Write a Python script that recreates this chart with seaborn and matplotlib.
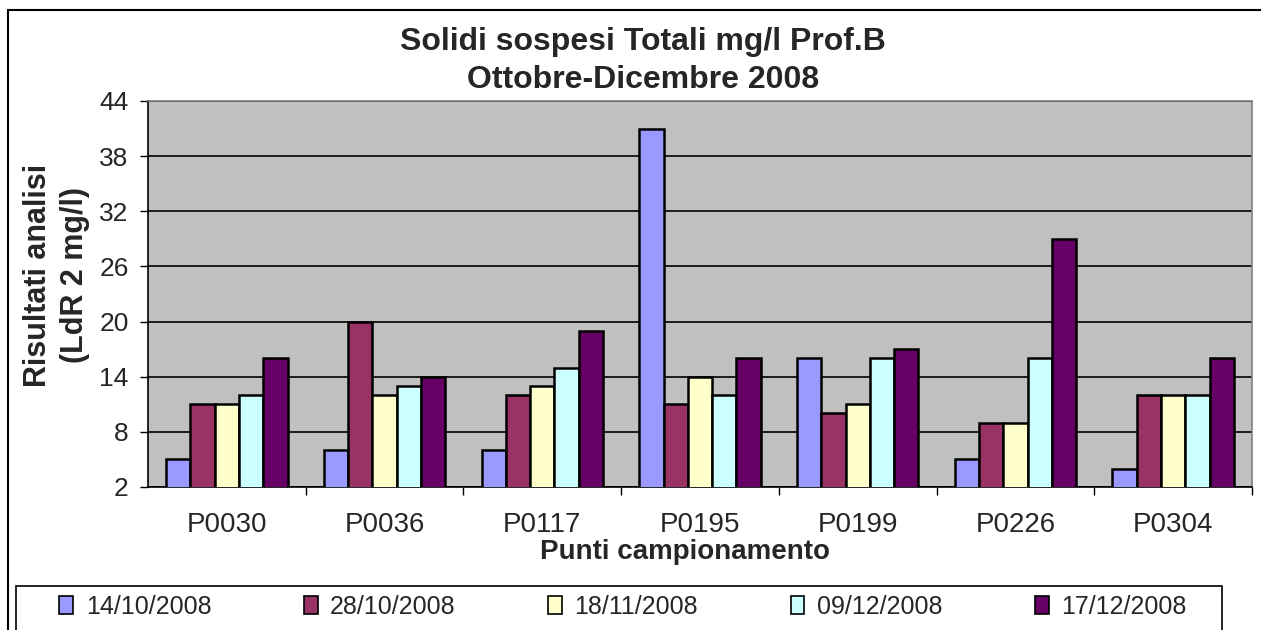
import pandas as pd
import seaborn as sns
import matplotlib.pyplot as plt
from matplotlib.patches import Rectangle

# ------------------------------- dati del grafico ------------------------------ #
PUNTI = ["P0030", "P0036", "P0117", "P0195", "P0199", "P0226", "P0304"]
DATE = ["14/10/2008", "28/10/2008", "18/11/2008", "09/12/2008", "17/12/2008"]

VAL_14_10 = [5, 6, 6, 41, 16, 5, 4]
VAL_28_10 = [11, 20, 12, 11, 10, 9, 12]
VAL_18_11 = [11, 12, 13, 14, 11, 9, 12]
VAL_09_12 = [12, 13, 15, 12, 16, 16, 12]
VAL_17_12 = [16, 14, 19, 16, 17, 29, 16]

COLORI = ["#9999FF", "#993366", "#FFFFCC", "#CCFFFF", "#660066"]
Y_TICKS = [2, 8, 14, 20, 26, 32, 38, 44]

# dataframe in formato lungo
serie = [VAL_14_10, VAL_28_10, VAL_18_11, VAL_09_12, VAL_17_12]
righe = []
for data, valori in zip(DATE, serie):
    for punto, v in zip(PUNTI, valori):
        righe.append({"punto": punto, "data": data, "valore": v})
df = pd.DataFrame(righe)

# ----------------------------------- grafico ----------------------------------- #
sns.set_style("white")
plt.rcParams["font.family"] = ["Liberation Sans", "DejaVu Sans"]

fig = plt.figure(figsize=(12.61, 6.3), dpi=100)
ax = fig.add_axes([0.1174, 0.227, 0.8755, 0.6127])
ax.set_facecolor("#C0C0C0")

sns.barplot(data=df, x="punto", y="valore", hue="data", order=PUNTI, hue_order=DATE,
            palette=COLORI, edgecolor="black", linewidth=1.8, width=0.77, gap=0,
            saturation=1, legend=False, ax=ax, zorder=3)

# assi e griglia
ax.set_ylim(2, 44)
ax.set_xlim(-0.5, len(PUNTI) - 0.5)
ax.set_yticks(Y_TICKS)
ax.yaxis.grid(True, color="black", linewidth=1.2, zorder=0)
ax.set_axisbelow(True)
ax.tick_params(axis="y", labelsize=19, length=6, width=1, color="black", direction="out",
               left=True, pad=8)
ax.tick_params(axis="x", labelsize=20, length=0, pad=18)
ax.set_xticks(range(len(PUNTI)), minor=False)
ax.set_xticks([i + 0.5 for i in range(len(PUNTI))], minor=True)
ax.tick_params(axis="x", which="minor", length=6, width=1, color="black", bottom=True)
for lato in ["left", "bottom"]:
    ax.spines[lato].set_color("black")
    ax.spines[lato].set_linewidth(1.2)
for lato in ["top", "right"]:
    ax.spines[lato].set_color("#808080")
    ax.spines[lato].set_linewidth(1.2)

ax.set_xlabel("")
ax.set_ylabel("")

# etichette assi
fig.text(0.543, 0.124, "Punti campionamento", ha="center", va="center",
         fontsize=20, fontweight="bold")
fig.text(0.045, 0.563, "Risultati analisi\n(LdR 2 mg/l)", ha="center", va="center",
         rotation=90, multialignment="center", linespacing=1.3,
         fontsize=22, fontweight="bold")

# titolo
fig.text(0.51, 0.933, "Solidi sospesi Totali mg/l Prof.B", ha="center", va="center",
         fontsize=23, fontweight="bold")
fig.text(0.51, 0.873, "Ottobre-Dicembre 2008", ha="center", va="center",
         fontsize=23, fontweight="bold")

# legenda
handles = [Rectangle((0, 0), 1, 1, facecolor=c, edgecolor="black", linewidth=1.2) for c in COLORI]
leg = fig.legend(handles, DATE, loc="center", bbox_to_anchor=(0.494, 0.037), ncol=5,
                 fontsize=18, frameon=False, handlelength=0.55, handleheight=0.75,
                 handletextpad=0.5, columnspacing=3.7, borderaxespad=0)

# riquadro legenda e bordo esterno
fig.patches.append(Rectangle((16 / 1261, -0.05), (1222 - 16) / 1261, 0.05 + (630 - 586) / 630,
                             transform=fig.transFigure, fill=False, edgecolor="black",
                             linewidth=1.2))
fig.patches.append(Rectangle((8 / 1261, -0.05), 1.05, 0.05 + (630 - 10) / 630,
                             transform=fig.transFigure, fill=False, edgecolor="black",
                             linewidth=1.5))

fig.savefig("out.png", dpi=100)
